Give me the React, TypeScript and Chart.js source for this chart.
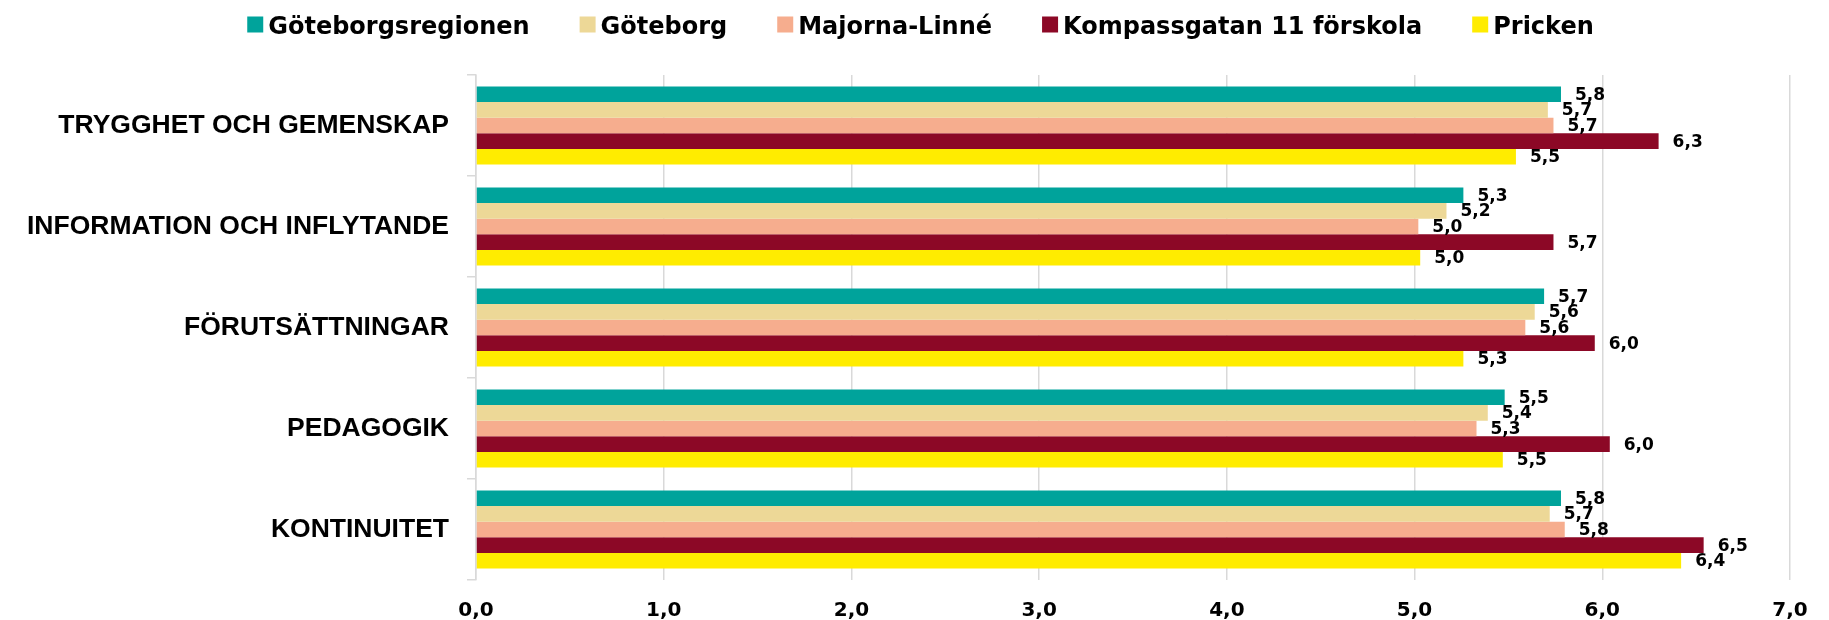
import React, { useEffect, useRef } from "react";
import { Chart, registerables } from "chart.js";

Chart.register(...registerables);

const categories = [
  "TRYGGHET OCH GEMENSKAP",
  "INFORMATION OCH INFLYTANDE",
  "FÖRUTSÄTTNINGAR",
  "PEDAGOGIK",
  "KONTINUITET",
];

const seriesNames = [
  "Göteborgsregionen",
  "Göteborg",
  "Majorna-Linné",
  "Kompassgatan 11 förskola",
  "Pricken",
];

const goteborgsregionen = [5.78, 5.26, 5.69, 5.48, 5.78];
const goteborg = [5.71, 5.17, 5.64, 5.39, 5.72];
const majornaLinne = [5.74, 5.02, 5.59, 5.33, 5.8];
const kompassgatan = [6.3, 5.74, 5.96, 6.04, 6.54];
const pricken = [5.54, 5.03, 5.26, 5.47, 6.42];

const seriesColors = ["#00A39B", "#EDD897", "#F6AD8E", "#8C0826", "#FFEC00"];

const xTicksMin = 0;
const xTicksMax = 7;

const fmt = (v: number) => v.toFixed(1).replace(".", ",");

const dataLabelPlugin = {
  id: "dataLabels",
  afterDatasetsDraw(chart: any) {
    const ctx = chart.ctx;
    ctx.save();
    ctx.font = 'bold 17px "DejaVu Sans"';
    ctx.fillStyle = "#000";
    ctx.textAlign = "left";
    ctx.textBaseline = "middle";
    chart.data.datasets.forEach((ds: any, i: number) => {
      const meta = chart.getDatasetMeta(i);
      meta.data.forEach((el: any, j: number) => {
        ctx.fillText(fmt(ds.data[j]), el.x + 14, el.y + 1);
      });
    });
    ctx.restore();
  },
};

const legendPlugin = {
  id: "customLegend",
  afterDraw(chart: any) {
    const ctx = chart.ctx;
    ctx.save();
    ctx.font = 'bold 24px "DejaVu Sans"';
    ctx.textBaseline = "alphabetic";
    ctx.textAlign = "left";
    const box = 16;
    const boxGap = 5;
    const itemGap = 50;
    const items = chart.data.datasets.map((ds: any) => ({
      label: ds.label,
      color: ds.backgroundColor,
      w: box + boxGap + ctx.measureText(ds.label).width,
    }));
    const total =
      items.reduce((s: number, it: any) => s + it.w, 0) + itemGap * (items.length - 1);
    let x = 920.5 - total / 2;
    items.forEach((it: any) => {
      ctx.fillStyle = it.color;
      ctx.fillRect(x, 16.5, box, box);
      ctx.fillStyle = "#000";
      ctx.fillText(it.label, x + box + boxGap, 34);
      x += it.w + itemGap;
    });
    ctx.restore();
  },
};

export default function App() {
  const canvasRef = useRef<HTMLCanvasElement | null>(null);

  useEffect(() => {
    document.body.style.margin = "0";
    const values = [goteborgsregionen, goteborg, majornaLinne, kompassgatan, pricken];
    const chart = new Chart(canvasRef.current as HTMLCanvasElement, {
      type: "bar",
      data: {
        labels: categories,
        datasets: seriesNames.map((name, i) => ({
          label: name,
          data: values[i],
          backgroundColor: seriesColors[i],
          borderWidth: 0,
          categoryPercentage: 0.772,
          barPercentage: 1.0,
        })),
      },
      options: {
        indexAxis: "y",
        animation: false,
        responsive: false,
        maintainAspectRatio: false,
        layout: { padding: { top: 75, right: 39, left: 0, bottom: 0 } },
        plugins: {
          legend: { display: false },
          tooltip: { enabled: false },
        },
        scales: {
          x: {
            min: xTicksMin,
            max: xTicksMax,
            afterFit(scale: any) {
              scale.height = 40;
            },
            ticks: {
              stepSize: 1,
              padding: 19,
              color: "#000",
              font: { family: "DejaVu Sans", weight: "bold", size: 20 },
              callback: (v: any) => fmt(Number(v)),
            },
            grid: {
              color: "#d9d9d9",
              lineWidth: 1.5,
              drawTicks: false,
            },
            border: { display: false },
          },
          y: {
            afterFit(scale: any) {
              scale.width = 476;
            },
            ticks: {
              padding: 18,
              color: "#000",
              font: { family: "Liberation Sans", weight: "bold", size: 26.5 },
            },
            grid: {
              drawOnChartArea: false,
              drawTicks: true,
              tickLength: 9,
              color: "#d9d9d9",
              lineWidth: 1.5,
            },
            border: { display: true, color: "#d9d9d9", width: 1.5 },
          },
        },
      },
      plugins: [dataLabelPlugin, legendPlugin],
    });
    return () => chart.destroy();
  }, []);

  return (
    <div style={{ width: 1829, height: 620, background: "#fff" }}>
      <canvas ref={canvasRef} width={1829} height={620} style={{ display: "block" }} />
    </div>
  );
}
